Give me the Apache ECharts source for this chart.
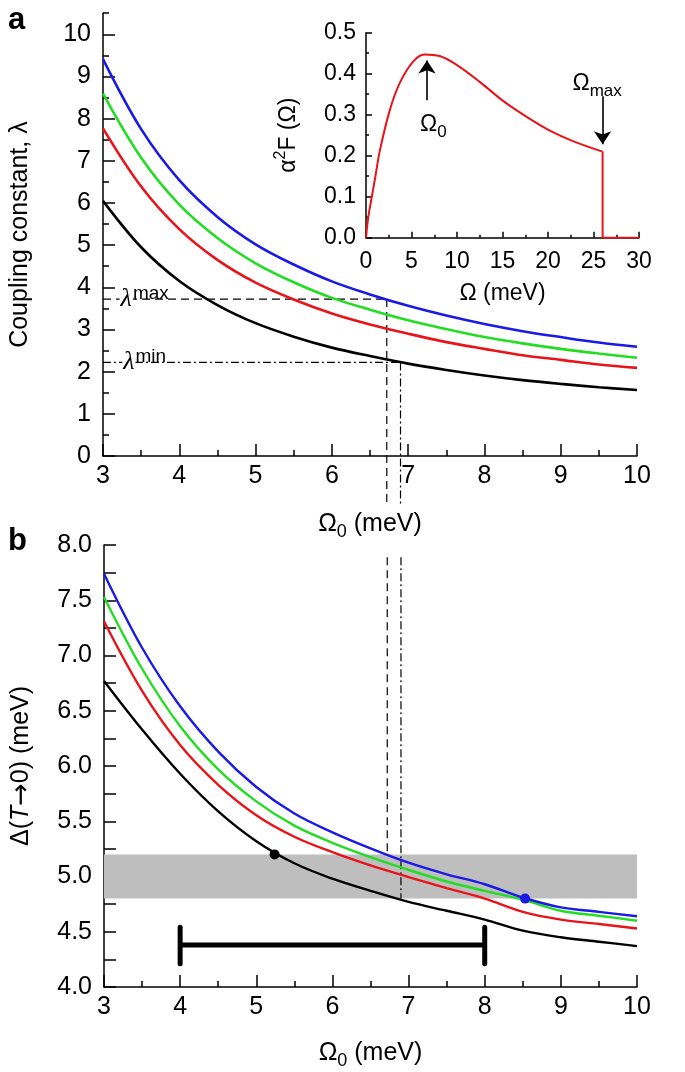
<!DOCTYPE html>
<html><head><meta charset="utf-8">
<script src="https://cdn.jsdelivr.net/npm/echarts@6/dist/echarts.min.js"></script>
<style>html,body{margin:0;padding:0;background:#fff}#c{width:685px;height:1072px}</style>
</head><body><div id="c"></div>
<script>
// ---------- data: panel a (coupling constant vs Omega0) ----------
const omega0 = [3, 3.5, 4, 4.5, 5, 5.5, 6, 6.5, 7, 7.5, 8, 8.5, 9, 9.5, 10];
const lambdaBlack = [6.05, 4.95, 4.15, 3.58, 3.15, 2.83, 2.57, 2.37, 2.19, 2.04, 1.91, 1.80, 1.71, 1.63, 1.565];
const lambdaRed   = [7.77, 6.39, 5.38, 4.65, 4.11, 3.71, 3.38, 3.12, 2.90, 2.70, 2.54, 2.39, 2.28, 2.17, 2.09];
const lambdaGreen = [8.59, 7.07, 5.96, 5.17, 4.57, 4.12, 3.75, 3.47, 3.22, 3.01, 2.82, 2.67, 2.54, 2.43, 2.33];
const lambdaBlue  = [9.41, 7.75, 6.54, 5.67, 5.02, 4.54, 4.14, 3.83, 3.56, 3.33, 3.13, 2.96, 2.82, 2.69, 2.59];
const lambdaMax = 3.72;
const lambdaMin = 2.22;
const omegaAtLambdaMax = 6.72;
const omegaAtLambdaMin = 6.9;

// ---------- data: panel b (gap vs Omega0) ----------
const gapBlack = [6.77, 6.33, 5.93, 5.59, 5.32, 5.12, 4.98, 4.87, 4.77, 4.69, 4.61, 4.51, 4.45, 4.41, 4.37];
const gapRed   = [7.31, 6.68, 6.19, 5.83, 5.555, 5.36, 5.22, 5.10, 4.995, 4.895, 4.80, 4.68, 4.61, 4.57, 4.53];
const gapGreen = [7.53, 6.88, 6.36, 5.97, 5.68, 5.46, 5.305, 5.175, 5.06, 4.955, 4.87, 4.79, 4.69, 4.645, 4.60];
const gapBlue  = [7.74, 7.07, 6.54, 6.13, 5.81, 5.57, 5.40, 5.255, 5.125, 5.02, 4.93, 4.81, 4.72, 4.68, 4.64];
const gapBand = [4.8, 5.2];
const errorBarX = [4, 8];
const errorBarY = 4.38;
const errorCap = [4.21, 4.54];
const blackPoint = [5.24, 5.20];
const bluePoint = [8.53, 4.80];

// ---------- data: inset (alpha^2 F spectrum) ----------
const spectrumOmega = [0, 0.25, 0.6, 1.0, 1.5, 2.6, 3.7, 5.2, 6.4, 8.1, 10.0, 12.5, 15.1, 17.7, 20.2, 22.8, 26.0];
const spectrumA2F   = [0, 0.05, 0.095, 0.145, 0.21, 0.31, 0.377, 0.43, 0.447, 0.443, 0.421, 0.380, 0.333, 0.294, 0.261, 0.235, 0.21];
const cutoffOmega = [26.0, 26.0, 30];
const cutoffA2F   = [0.21, 0, 0];
const omegaPeak = 6.7;

// ---------- tick labels ----------
const xTicksMain = [3, 4, 5, 6, 7, 8, 9, 10];
const yTicksA = [0, 1, 2, 3, 4, 5, 6, 7, 8, 9, 10];
const yTicksB = [4.0, 4.5, 5.0, 5.5, 6.0, 6.5, 7.0, 7.5, 8.0];
const xTicksInset = [0, 5, 10, 15, 20, 25, 30];
const yTicksInset = [0, 0.1, 0.2, 0.3, 0.4, 0.5];

const zip = (xs, ys) => xs.map((x, i) => [x, ys[i]]);
const FONT = '"Liberation Sans", Arial, Helvetica, sans-serif';
const SERIF = '"Liberation Serif", "DejaVu Serif", serif';
const BLUE = '#1a1ae6', GREEN = '#22dd22', RED = '#e8141a', BLACK = '#000';

function rich(size, sub) {
  const base = {color: '#000', textBorderWidth: 0, textShadowBlur: 0};
  return {
    a: Object.assign({fontFamily: FONT, fontSize: size, lineHeight: size + 8}, base),
    i: Object.assign({fontFamily: FONT, fontSize: size, lineHeight: size + 8, fontStyle: 'italic'}, base),
    r: Object.assign({fontFamily: '"DejaVu Sans", sans-serif', fontSize: size + 2, lineHeight: size + 8}, base),
    s: Object.assign({fontFamily: FONT, fontSize: sub, lineHeight: sub, verticalAlign: 'bottom'}, base),
    u: Object.assign({fontFamily: FONT, fontSize: sub, lineHeight: sub, verticalAlign: 'top'}, base)
  };
}
const lineBlack = {color: '#000', width: 1.5};

function xAxisMain(grid, gap) {
  return {
    gridIndex: grid, type: 'value', min: 3, max: 10, interval: 1,
    axisLine: {show: true, onZero: false, lineStyle: lineBlack},
    axisTick: {show: true, inside: true, length: 12, lineStyle: lineBlack},
    minorTick: {show: true, splitNumber: 2, length: 6, lineStyle: lineBlack},
    splitLine: {show: false}, minorSplitLine: {show: false},
    axisLabel: {customValues: xTicksMain, fontFamily: FONT, fontSize: 25, color: '#000', margin: 8},
    name: '{a|Ω}{s|0}{a| (meV)}', nameLocation: 'middle', nameGap: gap,
    nameTextStyle: {rich: rich(25, 18)}
  };
}

function lineSeries(xi, yi, data, color, width, type, extra) {
  return Object.assign({
    type: 'line', xAxisIndex: xi, yAxisIndex: yi, data: data,
    showSymbol: false, symbol: 'none', silent: true, animation: false,
    lineStyle: {color: color, width: width, type: type || 'solid'}
  }, extra || {});
}
function curve(xi, yi, data, color, width) {
  return lineSeries(xi, yi, data, color, width, 'solid', {smooth: 0.35, z: 3});
}

const DASH = [8, 5];
const DASHDOT = [8, 3, 2, 3];
const plainLabel = {color: '#000', textBorderWidth: 0, textShadowBlur: 0, opacity: 1};

const option = {
  backgroundColor: '#fff',
  animation: false,
  grid: [
    {left: 103, top: 13.2, width: 534, height: 442.8},
    {left: 366, top: 32.7, width: 273, height: 205},
    {left: 103, top: 545, width: 534, height: 442}
  ],
  xAxis: [
    xAxisMain(0, 52),
    {
      gridIndex: 1, type: 'value', min: 0, max: 30, interval: 5,
      axisLine: {show: true, onZero: false, lineStyle: lineBlack},
      axisTick: {show: true, inside: true, length: 6, lineStyle: lineBlack},
      minorTick: {show: true, splitNumber: 2, length: 3, lineStyle: lineBlack},
      splitLine: {show: false},
      axisLabel: {customValues: xTicksInset, fontFamily: FONT, fontSize: 23, color: '#000', margin: 12},
      name: 'Ω (meV)', nameLocation: 'middle', nameGap: 44,
      nameTextStyle: {fontFamily: FONT, fontSize: 23, color: '#000'}
    },
    xAxisMain(2, 50)
  ],
  yAxis: [
    {
      gridIndex: 0, type: 'value', min: 0, max: 10.5, interval: 0.5, position: 'left',
      axisLine: {show: true, onZero: false, lineStyle: lineBlack},
      axisTick: {show: true, inside: true, length: 6, lineStyle: lineBlack},
      splitLine: {show: false},
      axisLabel: {customValues: yTicksA, fontFamily: FONT, fontSize: 25, color: '#000', margin: 12},
      name: '{a|Coupling constant, λ}', nameLocation: 'middle', nameRotate: 90, nameGap: 66,
      nameTextStyle: {rich: rich(25, 18)}
    },
    {
      gridIndex: 0, type: 'value', min: 0, max: 10.5, position: 'left',
      axisLine: {show: false},
      axisTick: {show: true, inside: true, length: 12, customValues: yTicksA, lineStyle: lineBlack},
      axisLabel: {show: false}, splitLine: {show: false}
    },
    {
      gridIndex: 1, type: 'value', min: 0, max: 0.5, interval: 0.1, position: 'left',
      axisLine: {show: true, onZero: false, lineStyle: lineBlack},
      axisTick: {show: true, inside: true, length: 6, lineStyle: lineBlack},
      minorTick: {show: true, splitNumber: 2, length: 3, lineStyle: lineBlack},
      splitLine: {show: false},
      axisLabel: {customValues: yTicksInset, formatter: v => v.toFixed(1), fontFamily: FONT, fontSize: 23, color: '#000', margin: 10},
      name: '{a|α}{u|2}{a|F (Ω)}', nameLocation: 'middle', nameRotate: 90, nameGap: 62,
      nameTextStyle: {rich: rich(23, 16)}
    },
    {
      gridIndex: 2, type: 'value', min: 4, max: 8, interval: 0.25, position: 'left',
      axisLine: {show: true, onZero: false, lineStyle: lineBlack},
      axisTick: {show: true, inside: true, length: 12, lineStyle: lineBlack},
      splitLine: {show: false},
      axisLabel: {customValues: yTicksB, formatter: v => v.toFixed(1), fontFamily: FONT, fontSize: 25, color: '#000', margin: 12},
      name: '{a|Δ(}{i|T}{r|→}{a|0) (meV)}', nameLocation: 'middle', nameRotate: 90, nameGap: 66,
      nameTextStyle: {rich: rich(25, 18)}
    }
  ],
  graphic: [
    {type: 'text', left: 8, top: 5, style: {text: 'a', font: 'bold 31px ' + FONT, fill: '#000'}},
    {type: 'text', left: 8, top: 526, style: {text: 'b', font: 'bold 31px ' + FONT, fill: '#000'}}
  ],
  series: [
    // ----- panel a -----
    lineSeries(0, 0, [[3, lambdaMax], [omegaAtLambdaMax, lambdaMax]], '#000', 1.2, DASH),
    lineSeries(0, 0, [[3, lambdaMin], [omegaAtLambdaMin, lambdaMin]], '#000', 1.2, DASHDOT),
    lineSeries(0, 0, [[omegaAtLambdaMax, lambdaMax], [omegaAtLambdaMax, -1.15]], '#000', 1.2, DASH, {clip: false}),
    lineSeries(0, 0, [[omegaAtLambdaMin, lambdaMin], [omegaAtLambdaMin, -1.15]], '#000', 1.2, DASHDOT, {clip: false}),
    curve(0, 0, zip(omega0, lambdaBlack), BLACK, 2.6),
    curve(0, 0, zip(omega0, lambdaRed), RED, 2.6),
    curve(0, 0, zip(omega0, lambdaGreen), GREEN, 2.6),
    curve(0, 0, zip(omega0, lambdaBlue), BLUE, 2.6),
    {
      type: 'scatter', xAxisIndex: 0, yAxisIndex: 0, symbolSize: 0, silent: true, z: 5,
      itemStyle: {opacity: 1},
      data: [
        {value: [3.54, lambdaMax], label: {formatter: '{l|λ}{u|max}'}},
        {value: [3.54, lambdaMin], label: {formatter: '{l|λ}{u|min}'}}
      ],
      label: Object.assign({
        show: true, position: 'inside',
        rich: {
          l: {fontFamily: SERIF, fontStyle: 'italic', fontSize: 26, color: '#000', lineHeight: 30, backgroundColor: '#fff', padding: [0, 1, 0, 1], textBorderWidth: 0},
          u: {fontFamily: FONT, fontSize: 19, color: '#000', lineHeight: 19, verticalAlign: 'top', textBorderWidth: 0}
        }
      }, plainLabel)
    },
    // ----- inset -----
    lineSeries(1, 2, zip(spectrumOmega, spectrumA2F), RED, 2, 'solid', {smooth: 0.35}),
    lineSeries(1, 2, zip(cutoffOmega, cutoffA2F), RED, 2, 'solid', {
      markLine: {
        silent: true, animation: false, symbol: ['none', 'arrow'], symbolSize: 13,
        lineStyle: {color: '#000', width: 1.6, type: 'solid'},
        itemStyle: {color: '#000'},
        label: {show: false},
        data: [
          [{coord: [omegaPeak, 0.335], symbol: 'none'}, {coord: [omegaPeak, 0.432], symbol: 'arrow', symbolSize: 13}],
          [{coord: [cutoffOmega[0], 0.345], symbol: 'none'}, {coord: [cutoffOmega[0], 0.228], symbol: 'arrow', symbolSize: 13}]
        ]
      }
    }),
    {
      type: 'scatter', xAxisIndex: 1, yAxisIndex: 2, symbolSize: 0, silent: true,
      itemStyle: {opacity: 1},
      data: [
        {value: [7.4, 0.275], label: {formatter: '{a|Ω}{s|0}'}},
        {value: [25.4, 0.375], label: {formatter: '{a|Ω}{s|max}'}}
      ],
      label: Object.assign({show: true, position: 'inside', rich: rich(23, 17)}, plainLabel)
    },
    // ----- panel b -----
    lineSeries(2, 3, [[3, gapBand[0]], [10, gapBand[0]]], 'rgba(0,0,0,0)', 0, 'solid', {
      z: 0,
      markArea: {
        silent: true, itemStyle: {color: '#bebebe'},
        data: [[{coord: [3, gapBand[0]]}, {coord: [10, gapBand[1]]}]]
      }
    }),
    lineSeries(2, 3, [[omegaAtLambdaMax, 7.89], [omegaAtLambdaMax, gapBand[1]]], '#000', 1.2, DASH, {z: 2}),
    lineSeries(2, 3, [[omegaAtLambdaMin, 7.89], [omegaAtLambdaMin, gapBand[0]]], '#000', 1.2, DASHDOT, {z: 2}),
    curve(2, 3, zip(omega0, gapBlack), BLACK, 2.4),
    curve(2, 3, zip(omega0, gapRed), RED, 2.4),
    curve(2, 3, zip(omega0, gapGreen), GREEN, 2.4),
    curve(2, 3, zip(omega0, gapBlue), BLUE, 2.4),
    lineSeries(2, 3, [[errorBarX[0], errorBarY], [errorBarX[1], errorBarY]], '#000', 5, 'solid', {z: 4}),
    lineSeries(2, 3, [[errorBarX[0], errorCap[0]], [errorBarX[0], errorCap[1]]], '#000', 5, 'solid', {z: 4, lineStyle: {color: '#000', width: 5, cap: 'round'}}),
    lineSeries(2, 3, [[errorBarX[1], errorCap[0]], [errorBarX[1], errorCap[1]]], '#000', 5, 'solid', {z: 4, lineStyle: {color: '#000', width: 5, cap: 'round'}}),
    {
      type: 'scatter', xAxisIndex: 2, yAxisIndex: 3, symbolSize: 10, silent: true, z: 6,
      itemStyle: {opacity: 1},
      data: [
        {value: blackPoint, itemStyle: {color: '#000'}},
        {value: bluePoint, itemStyle: {color: BLUE}}
      ]
    }
  ]
};

const chart = echarts.init(document.getElementById('c'), null, {renderer: 'canvas'});
chart.setOption(option);
</script>
</body></html>
